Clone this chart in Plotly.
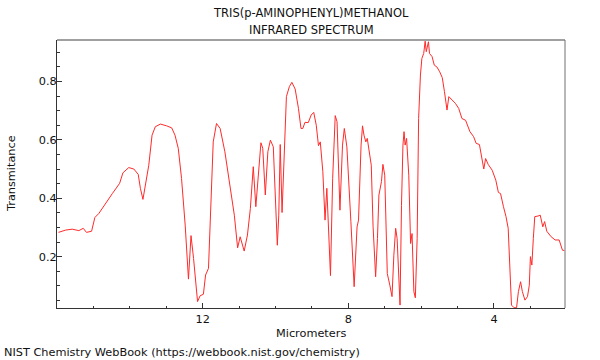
import plotly.graph_objects as go

title_line1 = "TRIS(p-AMINOPHENYL)METHANOL"
title_line2 = "INFRARED SPECTRUM"
x_title = "Micrometers"
y_title = "Transmitance"
footer = "NIST Chemistry WebBook (https://webbook.nist.gov/chemistry)"

x_tick_vals = [12, 8, 4]
y_tick_vals = [0.2, 0.4, 0.6, 0.8]

wavelength_um = [
    15.96, 15.76, 15.58, 15.40, 15.28, 15.19, 15.05, 14.96, 14.85, 14.67,
    14.48, 14.28, 14.19, 14.03, 13.89, 13.77, 13.71, 13.64, 13.57, 13.48,
    13.39, 13.30, 13.16, 13.12, 12.99, 12.85, 12.76, 12.67, 12.58, 12.48,
    12.39, 12.32, 12.25, 12.14, 12.07, 11.98, 11.92, 11.84, 11.77, 11.71,
    11.62, 11.52, 11.39, 11.25, 11.13, 11.04, 10.97, 10.86, 10.77, 10.69,
    10.61, 10.54, 10.47, 10.40, 10.35, 10.28, 10.21, 10.14, 10.06, 10.01,
    9.95, 9.91, 9.87, 9.82, 9.75, 9.70, 9.62, 9.55, 9.46, 9.37,
    9.30, 9.25, 9.19, 9.10, 9.02, 8.95, 8.88, 8.82, 8.77, 8.70,
    8.64, 8.59, 8.49, 8.43, 8.36, 8.31, 8.23, 8.16, 8.11, 8.04,
    7.93, 7.84, 7.76, 7.72, 7.65, 7.61, 7.57, 7.52, 7.48, 7.43,
    7.37, 7.32, 7.25, 7.20, 7.16, 7.09, 7.05, 7.00, 6.97, 6.93,
    6.86, 6.80, 6.75, 6.70, 6.66, 6.58, 6.54, 6.50, 6.47, 6.44,
    6.40, 6.34, 6.29, 6.25, 6.20, 6.16, 6.11, 6.07, 6.02, 5.98,
    5.93, 5.89, 5.86, 5.80, 5.77, 5.70, 5.64, 5.57, 5.49, 5.42,
    5.36, 5.29, 5.24, 5.15, 5.06, 4.97, 4.88, 4.78, 4.72, 4.66,
    4.56, 4.49, 4.40, 4.34, 4.28, 4.23, 4.16, 4.05, 3.95, 3.88,
    3.82, 3.74, 3.67, 3.61, 3.56, 3.52, 3.45, 3.38, 3.33, 3.27,
    3.22, 3.15, 3.08, 3.03, 3.00, 2.96, 2.92, 2.88, 2.79, 2.73,
    2.66, 2.61, 2.55, 2.43, 2.32, 2.21, 2.12, 2.07,
]

transmittance = [
    0.283, 0.291, 0.294, 0.289, 0.297, 0.283, 0.287, 0.334, 0.348, 0.382,
    0.416, 0.451, 0.487, 0.505, 0.500, 0.482, 0.434, 0.396, 0.445, 0.513,
    0.616, 0.645, 0.654, 0.653, 0.648, 0.641, 0.616, 0.571, 0.468, 0.308,
    0.123, 0.272, 0.194, 0.046, 0.066, 0.071, 0.137, 0.160, 0.376, 0.593,
    0.656, 0.639, 0.559, 0.445, 0.342, 0.230, 0.268, 0.219, 0.274, 0.365,
    0.508, 0.371, 0.479, 0.590, 0.571, 0.411, 0.559, 0.599, 0.576, 0.434,
    0.239, 0.342, 0.584, 0.351, 0.582, 0.748, 0.782, 0.797, 0.774, 0.708,
    0.639, 0.639, 0.660, 0.659, 0.685, 0.694, 0.650, 0.580, 0.593, 0.491,
    0.325, 0.434, 0.135, 0.468, 0.683, 0.662, 0.359, 0.582, 0.639, 0.576,
    0.320, 0.097, 0.302, 0.325, 0.582, 0.648, 0.616, 0.593, 0.605, 0.565,
    0.513, 0.302, 0.131, 0.262, 0.411, 0.457, 0.516, 0.479, 0.331, 0.142,
    0.102, 0.063, 0.205, 0.297, 0.262, 0.034, 0.376, 0.582, 0.628, 0.582,
    0.605, 0.479, 0.245, 0.279, 0.080, 0.059, 0.262, 0.673, 0.822, 0.879,
    0.896, 0.938, 0.902, 0.936, 0.896, 0.885, 0.856, 0.850, 0.833, 0.813,
    0.765, 0.702, 0.748, 0.736, 0.725, 0.708, 0.673, 0.667, 0.650, 0.628,
    0.611, 0.588, 0.584, 0.536, 0.500, 0.536, 0.516, 0.496, 0.462, 0.420,
    0.416, 0.371, 0.337, 0.297, 0.148, 0.034, 0.025, 0.025, 0.080, 0.114,
    0.080, 0.051, 0.063, 0.102, 0.200, 0.171, 0.262, 0.337, 0.339, 0.342,
    0.302, 0.320, 0.287, 0.268, 0.257, 0.257, 0.222, 0.221,
]

FONT = "DejaVu Sans"
FS = 11.3

fig = go.Figure()
fig.add_trace(go.Scatter(
    x=wavelength_um, y=transmittance, mode="lines",
    line=dict(color="#ff2a2a", width=1),
    hoverinfo="skip", showlegend=False,
))

fig.update_layout(
    width=600, height=360,
    margin=dict(l=57, r=35, t=40, b=52, pad=0),
    paper_bgcolor="white", plot_bgcolor="white",
    font=dict(family=FONT, size=FS, color="#111"),
    xaxis=dict(
        range=[16.0, 2.05], tickvals=x_tick_vals,
        ticks="inside", ticklen=5, tickwidth=1, tickcolor="#333",
        showline=True, linecolor="#333", linewidth=1, mirror=False,
        showgrid=False, zeroline=False, automargin=False,
        minor=dict(dtick=1, tick0=0, ticks="inside", ticklen=2.5, tickcolor="#333", showgrid=False),
        tickfont=dict(family=FONT, size=FS, color="#111"),
    ),
    yaxis=dict(
        range=[0.024, 0.942], tickvals=y_tick_vals, tickformat=".1f",
        ticks="inside", ticklen=5, tickwidth=1, tickcolor="#333",
        showline=True, linecolor="#333", linewidth=1, mirror=False,
        showgrid=False, zeroline=False, automargin=False,
        ticklabelstandoff=-3,
        minor=dict(dtick=0.05, tick0=0, ticks="inside", ticklen=2.5, tickcolor="#333", showgrid=False),
        tickfont=dict(family=FONT, size=FS, color="#111"),
    ),
    shapes=[
        dict(type="line", xref="paper", yref="paper", x0=0, x1=1, y0=1, y1=1,
             line=dict(color="#a0a0a0", width=2)),
        dict(type="line", xref="paper", yref="paper", x0=1, x1=1, y0=0, y1=1,
             line=dict(color="#707070", width=1)),
    ],
    annotations=[
        dict(text=title_line1, xref="paper", yref="paper", x=0.5, y=1,
             yshift=27, xanchor="center", yanchor="middle", showarrow=False,
             font=dict(family=FONT, size=11.5, color="#111")),
        dict(text=title_line2, xref="paper", yref="paper", x=0.5, y=1,
             yshift=10, xanchor="center", yanchor="middle", showarrow=False,
             font=dict(family=FONT, size=11.5, color="#111")),
        dict(text=x_title, xref="paper", yref="paper", x=0.5, y=0,
             yshift=-25, xanchor="center", yanchor="middle", showarrow=False,
             font=dict(family=FONT, size=FS, color="#111")),
        dict(text=y_title, xref="paper", yref="paper", x=0, y=0.5,
             xshift=-46, xanchor="center", yanchor="middle", textangle=-90,
             showarrow=False, font=dict(family=FONT, size=FS, color="#111")),
        dict(text=footer, xref="paper", yref="paper", x=0, y=0,
             xshift=-55, yshift=-44, xanchor="left", yanchor="middle",
             showarrow=False, font=dict(family=FONT, size=FS, color="#111")),
    ],
)

fig.write_html(
    "out.html",
    config={"displayModeBar": False},
    post_script="document.body.style.margin='0';document.body.style.padding='0';",
)
